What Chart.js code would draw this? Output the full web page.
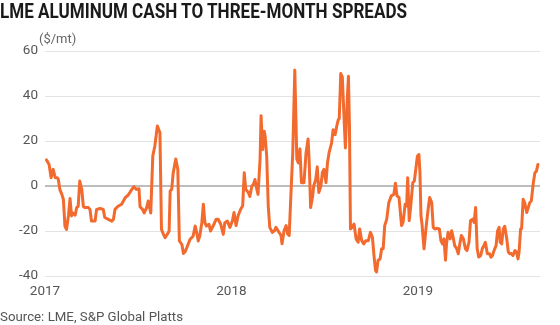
<!DOCTYPE html>
<html><head><meta charset="utf-8">
<script src="https://cdn.jsdelivr.net/npm/chart.js@4"></script>
<style>
html,body{margin:0;padding:0;background:#fff;}
#wrap{position:relative;width:560px;height:325px;overflow:hidden;font-family:Roboto,"Liberation Sans",sans-serif;}
#title{position:absolute;left:0;top:1px;font-weight:700;font-size:20px;line-height:20px;color:#1a1a1a;white-space:nowrap;transform-origin:0 0;}
#unit{position:absolute;left:39px;top:31px;font-size:13px;line-height:16px;color:#666;white-space:nowrap;}
#source{position:absolute;left:0;top:309px;font-size:13px;line-height:16px;color:#555;white-space:nowrap;transform-origin:0 0;}
canvas{position:absolute;left:0;top:0;}
</style></head>
<body>
<div id="wrap">
<canvas id="c" width="560" height="325" style="width:560px;height:325px"></canvas>
<div id="title">LME ALUMINUM CASH TO THREE-MONTH SPREADS</div>
<div id="unit">($/mt)</div>
<div id="source">Source: LME, S&amp;P Global Platts</div>
</div>
<script>
// days since 2017-01-01
const days = [3,8,12,16,20,24,26,29,33,36,39,42,46,49,52,55,59,62,65,68,72,75,78,85,88,91,98,101,108,114,117,124,131,134,137,143,150,157,163,170,174,179,184,
186,191,194,199,202,207,211,215,220,225,228,232,235,238,243,245,248,251,256,260,263,268,271,275,280,284,287,290,294,297,300,303,307,310,313,316,321,324,329,335,339,344,349,352,357,
362,367,370,374,378,383,387,390,393,398,401,405,408,411,414,417,421,423,426,429,431,434,437,440,445,449,452,455,459,462,464,468,472,475,478,481,485,489,493,496,499,502,507,511,515,517,520,
524,526,530,533,536,540,543,546,550,553,556,561,564,568,571,574,576,579,582,585,588,592,594,596,598,601,605,609,613,616,620,624,628,633,637,641,644,647,649,652,656,659,662,665,669,673,678,683,686,689,693,
698,701,705,708,710,713,716,720,723,725,729,732,734,736,738,742,746,750,753,757,760,763,768,772,775,778,781,784,786,789,793,796,799,802,806,809,812,815,819,823,826,830,833,837,840,843,846,849,853,856,859,862,866,870,873,876,879,883,886,889,
891,894,897,900,904,907,910,913,916,920,923,926,928,931,933,936,939,943,946,949,952,956,959,962,965];
// cash to three-month spread, $/mt
const spreads = [11.6,9.6,3.7,7.4,3.7,3.7,3,-1.5,-3.7,-6,-17.8,-19.3,-13,-5.6,-13.3,-12,-13,-9.6,-9,2.2,-1.5,-9,-9.6,-9.6,-10.4,-15.6,-15.6,-10.4,-10,-10.4,-14,-14.8,-15.6,-14.8,-10.4,-9,-8.1,-5.2,-4,-1.5,-0.3,-1.5,-1.2,
-9.2,-10.4,-12,-9.6,-6.7,-12,13.3,17.8,26.7,23.7,-19.3,-21.5,-23,-22,-20,-2.2,-1.5,5.9,12,7.4,-24.4,-26,-30,-28.9,-26,-23.7,-23,-22.2,-17.8,-20.7,-24.4,-22.2,-16.3,-8.1,-16.3,-17.8,-17,-20,-17.8,-14.8,-14.8,-17,-21.5,-16.3,-15.6,
-18.4,-15.4,-11.8,-17.6,-13.2,-10.3,-8.8,5.9,-1.5,-2.9,-4.7,0,0.7,2.9,-0.7,-3.7,11.8,31.2,16.2,24.3,22,13.2,-8.8,-18.4,-20.6,-19.9,-18.4,-19.5,-20.9,-22,-25.7,-19.9,-17.6,-21.3,-22,-5.9,14.7,51.5,11.8,10.3,16.5,1.5,1.5,14.7,20.9,11.8,-9.6,
-4.4,0,2.9,8.5,-2.9,0,5.9,7.4,1.5,10.3,14.7,19.1,25,22.8,26.5,29.4,30,50,48.5,32.4,16.9,39.7,48.8,26.5,-19.1,-18.4,-16.9,-23.5,-25,-19.1,-24.3,-25.7,-24.3,-24.3,-20.6,-22.8,-30.9,-37.5,-38.2,-33,-32.4,-27.9,-27.9,-17.6,-14.7,-7.4,-4.4,-3.7,1.2,-4.4,-5.1,
-17.6,-16.2,-8.1,-8.8,3.7,-15.4,-8.8,1.5,2.2,5.9,13.2,14,5.9,-13.2,-16.9,-27.9,-18.4,-10.3,-5.1,-7.4,-18.4,-19.1,-18.8,-19.1,-24.3,-25.7,-23.5,-33,-25.7,-20.6,-23.5,-19.9,-22.8,-26.5,-27.9,-30.1,-25.7,-22,-23.5,-27.9,-28.7,-25,-15.4,-14.7,-16.2,-9.6,-27.9,-31.6,-30.9,-27.9,-26.5,-25,-30.1,-30.1,-31.6,-30.9,-28.7,-26.5,-19.9,-18.4,
-25,-25.7,-19.1,-17.9,-23.5,-29.4,-30.1,-30,-30.9,-28.7,-29.4,-32.4,-29.4,-19.1,-19,-5.9,-7.4,-11.8,-9.6,-7.4,-6.6,1.5,5.9,6.6,9.6];
const yearTicks = [0, 365, 730];
const yearLabels = ['2017', '2018', '2019'];
const yMin = -40, yMax = 60, yStep = 20;

function fitWidth(id, w){
  const el = document.getElementById(id);
  const cur = el.getBoundingClientRect().width;
  if (cur > 0) el.style.transform = 'scaleX(' + (w / cur) + ')';
}
fitWidth('title', 407);
fitWidth('source', 183);

const tickFont = {family: 'Roboto', size: 13.5};
new Chart(document.getElementById('c'), {
  type: 'line',
  data: {
    datasets: [{
      data: days.map((d, i) => ({x: d, y: spreads[i]})),
      borderColor: '#f26a2e',
      borderWidth: 3,
      pointRadius: 0,
      tension: 0,
      borderJoinStyle: 'round',
      borderCapStyle: 'round',
      fill: false
    }]
  },
  options: {
    responsive: false,
    animation: false,
    layout: {padding: {left: 0, right: 20, top: 51, bottom: 19}},
    plugins: {legend: {display: false}, tooltip: {enabled: false}},
    scales: {
      x: {
        type: 'linear', min: 0, max: 969,
        afterBuildTicks: s => { s.ticks = yearTicks.map(v => ({value: v})); },
        afterFit: s => { s.height = 30; },
        grid: {display: false, drawTicks: false},
        border: {display: false},
        ticks: {padding: 8, maxRotation: 0, autoSkip: false, color: '#555', font: tickFont,
          callback: v => { const i = yearTicks.indexOf(v); return i >= 0 ? yearLabels[i] : ''; }}
      },
      y: {
        min: yMin, max: yMax,
        afterFit: s => { s.width = 45; },
        grid: {drawTicks: false,
          color: c => (c.tick && c.tick.value === 0) ? '#bdbdbd' : '#e2e2e2',
          lineWidth: c => (c.tick && c.tick.value === 0) ? 2 : 1},
        border: {display: false},
        ticks: {stepSize: yStep, padding: 7, color: '#555', font: tickFont}
      }
    }
  }
});
</script>
</body></html>
